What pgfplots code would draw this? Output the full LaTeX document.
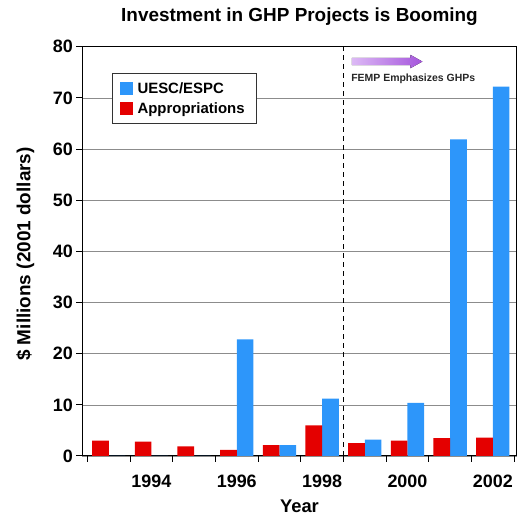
\documentclass[border=0pt]{standalone}
\usepackage{pgfplots}
\pgfplotsset{compat=1.18}
\usepackage{fontspec}
\setmainfont{Liberation Sans}
\definecolor{bblue}{RGB}{45,150,250}
\definecolor{bred}{RGB}{228,0,0}
\definecolor{pl}{RGB}{220,185,245}
\definecolor{pd}{RGB}{165,85,220}
\begin{document}
\begin{tikzpicture}
\begin{axis}[
 name=ax,
 scale only axis, width=434.4bp, height=409.3bp,
 xmin=1992.38, xmax=2002.56, ymin=0, ymax=80,
 xtick={1992.5,1993.5,...,2002.5}, xticklabels={},
 extra x ticks={1994,1996,1998,2000,2002},
 extra x tick labels={1994,1996,1998,2000,2002},
 extra x tick style={major tick length=0pt, xmajorgrids=false,
   xticklabel style={anchor=base, yshift=-32bp}},
 ytick={0,10,...,80},
 ymajorgrids, grid style={black!45, line width=0.6pt},
 axis line style={line width=1pt},
 tick style={line width=1pt, black},
 tick align=outside, major tick length=6bp,
 xtick pos=bottom, ytick pos=left,
 ticklabel style={font=\fontsize{18}{20}\selectfont\bfseries},
 /pgf/number format/assume math mode=true,
 /pgf/number format/1000 sep={},
 title={Investment in GHP Projects is Booming},
 title style={font=\fontsize{19}{22}\selectfont\bfseries, at={(axis description cs:0.5,1)}, anchor=base, yshift=19.5bp},
 xlabel={Year}, ylabel={\$ Millions (2001 dollars)},
 xlabel style={font=\fontsize{18.4}{20}\selectfont\bfseries, at={(axis description cs:0.5,0)}, anchor=base, yshift=-57bp},
 ylabel style={font=\fontsize{19}{21}\selectfont\bfseries, at={(axis description cs:-0.1312,0.4935)}, anchor=center},
 legend style={at={(0.0684,0.935)}, anchor=north west, draw=black!80, line width=1pt,
   font=\fontsize{15}{17}\selectfont\bfseries, row sep=3.5bp, inner xsep=7bp, inner ysep=7bp,
   nodes={inner xsep=5bp}},
 legend cell align=left,
 legend image code/.code={\fill[#1] (0,-6.5bp) rectangle (13bp,6.5bp);},
]
\addplot[ybar, bar width=0.39, bar shift=0.195, fill=bblue, draw=none] coordinates {
(1993,0) (1994,0) (1995,0) (1996,22.8) (1997,2.1) (1998,11.2) (1999,3.2) (2000,10.4) (2001,61.9) (2002,72.2)};
\addlegendentry{UESC/ESPC}
\addplot[ybar, bar width=0.39, bar shift=-0.195, fill=bred, draw=none] coordinates {
(1993,3.0) (1994,2.8) (1995,1.9) (1996,1.2) (1997,2.1) (1998,6.0) (1999,2.5) (2000,3.0) (2001,3.5) (2002,3.6)};
\addlegendentry{Appropriations}
\addplot[forget plot, black, line width=1.4pt, dash pattern=on 5bp off 4bp, sharp plot] coordinates {(1998.5,0) (1998.5,80)};
\fill[left color=pl, right color=pd] (axis cs:1998.70,76.4) -- (axis cs:2000.07,76.4) -- (axis cs:2000.07,75.8) -- (axis cs:2000.35,77.1) -- (axis cs:2000.07,78.4) -- (axis cs:2000.07,77.8) -- (axis cs:1998.70,77.8) -- cycle;
\node[anchor=west, inner sep=0pt, font=\fontsize{10.5}{12}\selectfont\bfseries, text=black!85] at (axis cs:1998.68,73.8) {FEMP Emphasizes GHPs};
\end{axis}
\path ([xshift=-82.3bp,yshift=-59bp]ax.south west) rectangle ([xshift=7.3bp,yshift=46.7bp]ax.north east);
\end{tikzpicture}
\end{document}
